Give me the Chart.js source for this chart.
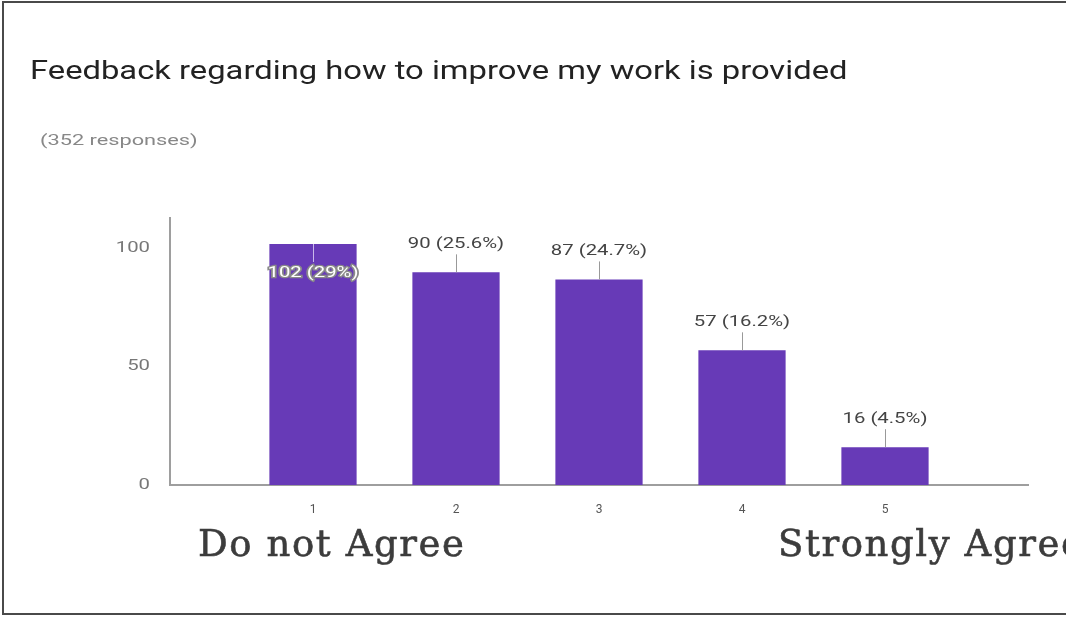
<!DOCTYPE html>
<html lang="en">
<head>
  <meta charset="UTF-8">
  <title>Feedback regarding how to improve my work is provided</title>
  <script src="https://cdn.jsdelivr.net/npm/chart.js"></script>
  <style>
    html, body { margin: 0; padding: 0; background: #fff; }
    body { width: 1066px; height: 617px; position: relative; overflow: hidden; font-family: Roboto, Arial, sans-serif; }
    #frame {
      position: absolute; left: 2px; top: 1px; width: 1100px; height: 614px;
      border: 2px solid #4a4a4a; box-sizing: border-box;
    }
    #chart-box { position: absolute; left: 0; top: 0; width: 1066px; height: 617px; }
    .title {
      position: absolute; left: 30px; top: 56px; font-size: 25px; color: #222; white-space: nowrap;
      transform: scaleX(1.31); transform-origin: left center;
    }
    .sub {
      position: absolute; left: 40px; top: 131px; font-size: 15px; color: #888; white-space: nowrap;
      transform: scaleX(1.45); transform-origin: left center;
    }
    .scale-end {
      position: absolute; top: 522px; font-family: "DejaVu Serif", serif;
      font-size: 37px; letter-spacing: 1.6px; color: #3c3c3c; white-space: nowrap;
      -webkit-text-stroke: 0.6px #3c3c3c;
    }
  </style>
</head>
<body>
  <div id="frame"></div>
  <div id="chart-box"><canvas id="feedbackChart"></canvas></div>
  <div class="title">Feedback regarding how to improve my work is provided</div>
  <div class="sub">(352 responses)</div>
  <div class="scale-end" style="left:198px">Do not Agree</div>
  <div class="scale-end" style="left:778px">Strongly Agree</div>

  <script>
    const categories = [1, 2, 3, 4, 5];
    const responses = [102, 90, 87, 57, 16];
    const percents = ['29%', '25.6%', '24.7%', '16.2%', '4.5%'];
    const yTicks = [0, 50, 100];

    // the source screenshot is stretched sideways, so its small texts are too
    function wideText(ctx, text, x, y, sx, stroke) {
      ctx.save();
      ctx.translate(x, y);
      ctx.scale(sx, 1);
      if (stroke) ctx.strokeText(text, 0, 0);
      ctx.fillText(text, 0, 0);
      ctx.restore();
    }

    // value labels with a short leader line, like the Google Forms summary
    const valueLabels = {
      id: 'valueLabels',
      afterDatasetsDraw(chart) {
        const ctx = chart.ctx;
        const area = chart.chartArea;
        chart.getDatasetMeta(0).data.forEach((bar, i) => {
          const text = responses[i] + ' (' + percents[i] + ')';
          const inside = bar.y - 36 < area.top;
          ctx.save();
          ctx.strokeStyle = inside ? '#c9b8ea' : '#999';
          ctx.lineWidth = 1;
          ctx.beginPath();
          ctx.moveTo(bar.x + 0.5, bar.y);
          ctx.lineTo(bar.x + 0.5, inside ? bar.y + 18 : bar.y - 18);
          ctx.stroke();
          ctx.font = '14px Roboto, Arial, sans-serif';
          ctx.textAlign = 'center';
          ctx.textBaseline = 'middle';
          const ty = inside ? bar.y + 30 : bar.y - 28;
          if (inside) {
            ctx.lineWidth = 2.5;
            ctx.strokeStyle = '#8a8a8a';
            ctx.fillStyle = '#fff';
          } else {
            ctx.fillStyle = '#444';
          }
          wideText(ctx, text, bar.x, ty, 1.45, inside);
          ctx.restore();
        });
      },
      afterDraw(chart) {
        const ctx = chart.ctx;
        const y = chart.scales.y;
        ctx.save();
        ctx.font = '14px Roboto, Arial, sans-serif';
        ctx.fillStyle = '#777';
        ctx.textAlign = 'right';
        ctx.textBaseline = 'middle';
        y.ticks.forEach(t => {
          wideText(ctx, String(t.value), y.right - 20, y.getPixelForValue(t.value), 1.45, false);
        });
        ctx.restore();
      }
    };

    new Chart(document.getElementById('feedbackChart'), {
      type: 'bar',
      data: {
        datasets: [{
          data: categories.map((c, i) => ({ x: c, y: responses[i] })),
          backgroundColor: '#673ab7',
          barPercentage: 0.61,
          categoryPercentage: 1
        }]
      },
      options: {
        responsive: true,
        maintainAspectRatio: false,
        animation: false,
        layout: { padding: { left: 0, right: 38, top: 218, bottom: 92 } },
        plugins: { legend: { display: false }, tooltip: { enabled: false } },
        scales: {
          x: {
            type: 'linear',
            min: 0,
            max: 6,
            offset: false,
            grid: { display: false, offset: false },
            border: { display: true, color: '#9e9e9e', width: 2 },
            ticks: {
              stepSize: 1,
              padding: 10,
              color: '#555',
              font: { size: 12, family: 'Roboto, Arial, sans-serif' },
              callback: v => categories.includes(v) ? String(v) : ''
            },
            afterFit: s => { s.height = 40; }
          },
          y: {
            min: 0,
            max: 113,
            grid: { display: false, drawTicks: false },
            border: { display: true, color: '#9e9e9e', width: 2 },
            afterBuildTicks: s => { s.ticks = yTicks.map(v => ({ value: v })); },
            ticks: { display: false },
            afterFit: s => { s.width = 170; }
          }
        }
      },
      plugins: [valueLabels]
    });
  </script>
</body>
</html>
